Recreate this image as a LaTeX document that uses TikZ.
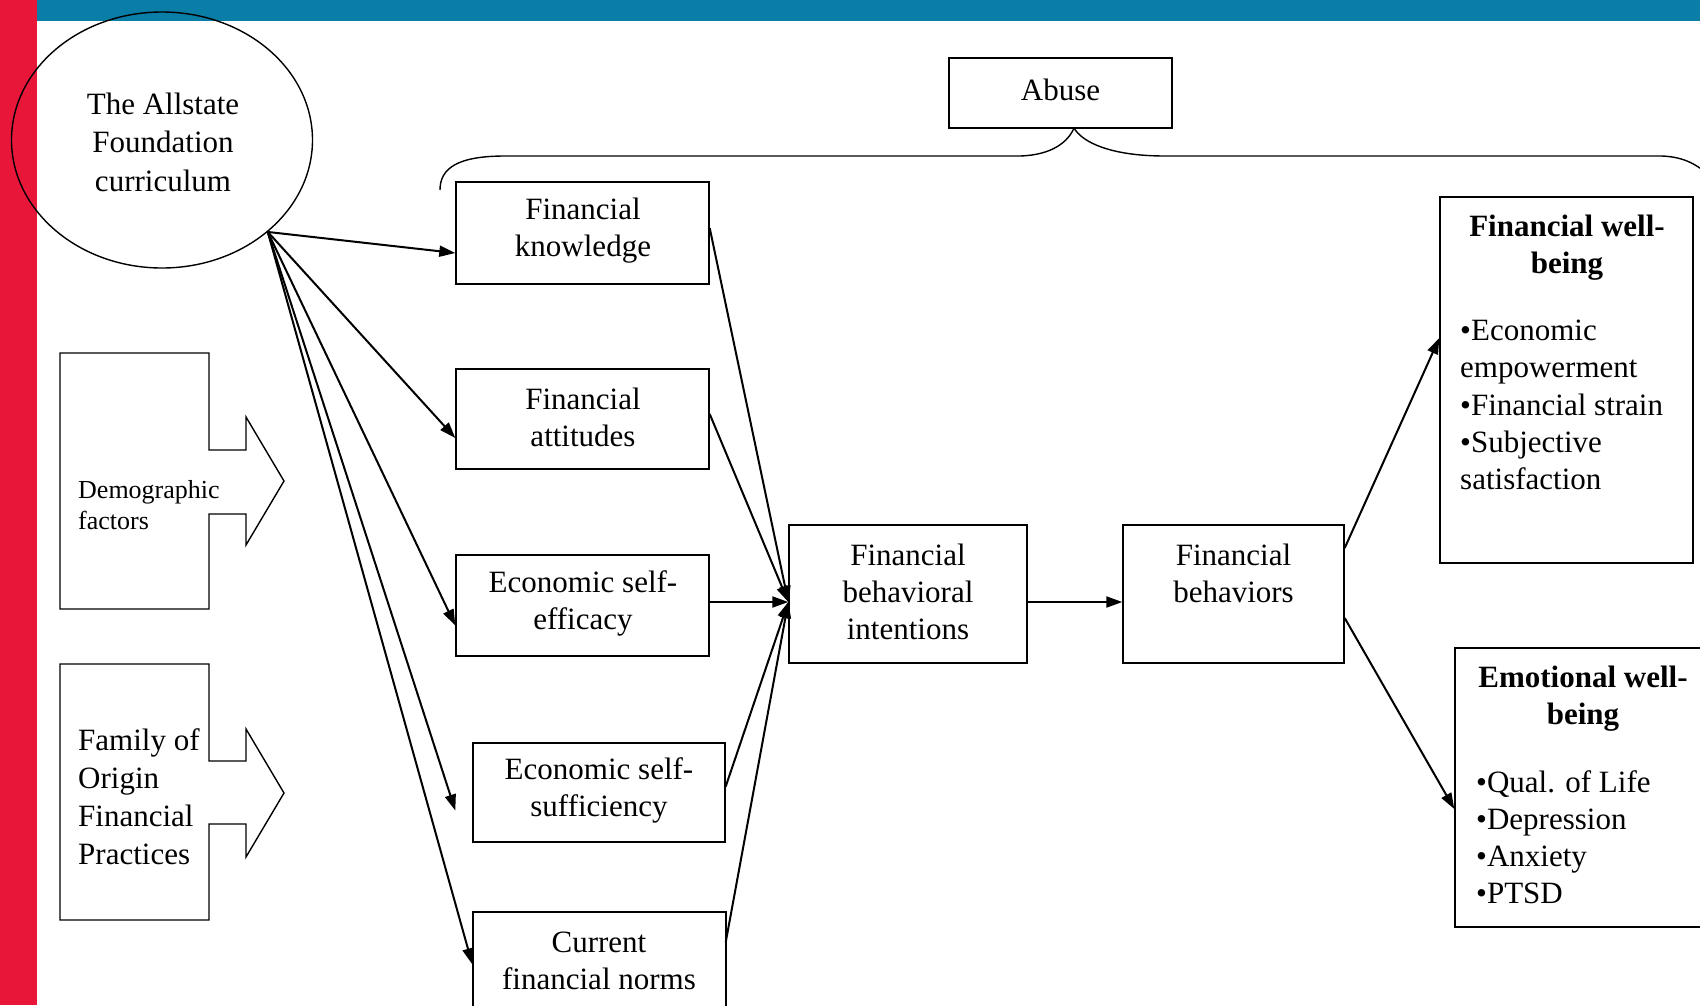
\documentclass[tikz,border=0pt]{standalone}
\usepackage{fontspec}
\setmainfont{Liberation Serif}
\usetikzlibrary{arrows.meta,calc,shapes.geometric}
\definecolor{topblue}{HTML}{0A7EA6}
\definecolor{sidered}{HTML}{E8173A}
\tikzset{
  box/.style={draw=black, line width=1.4pt, inner sep=0pt, fill=white},
  txt/.style={font=\fontsize{31}{37}\selectfont, align=center, inner sep=0pt},
  conn/.style={line width=2pt, -{Triangle[length=16pt,width=11pt]}},
  thin/.style={draw=black, line width=1.4pt},
}
\begin{document}
\begin{tikzpicture}[x=1pt,y=-1pt]
\useasboundingbox (0,0) rectangle (1700,1005);
\clip (0,0) rectangle (1700,1005);
\fill[white] (0,0) rectangle (1700,1005);
\fill[sidered] (0,0) rectangle (37,1005);
\fill[topblue] (37,0) rectangle (1700,21);

% ellipse
\node[thin, ellipse, minimum width=301pt, minimum height=256pt, inner sep=0pt] (allst) at (162,140) {};
\node[txt, font=\fontsize{31}{38.5}\selectfont] (allsttxt) at (163,142) {The Allstate\\Foundation\\curriculum};

% callout shapes
\draw[thin] (60,353) -- (209,353) -- (209,450) -- (246,450) -- (246,417) -- (284,481) -- (246,545) -- (246,514) -- (209,514) -- (209,609) -- (60,609) -- cycle;
\node[txt, align=left, anchor=west, font=\fontsize{26}{31}\selectfont] (demo) at (78,505) {Demographic\\factors};
\draw[thin] (60,664) -- (209,664) -- (209,761) -- (246,761) -- (246,729) -- (284,793) -- (246,857) -- (246,824) -- (209,824) -- (209,920) -- (60,920) -- cycle;
\node[txt, align=left, anchor=west, font=\fontsize{31}{38}\selectfont] (family) at (78,797) {Family of\\Origin\\Financial\\Practices};

% abuse and brace
\node[box, minimum width=223pt, minimum height=70pt] (abuse) at (1060.5,93) {};
\node[txt] (abusetxt) at (1060.5,90) {Abuse};
\coordinate (bracetip) at (1074,128);
\draw[thin] (440,190) .. controls (440,168) and (458,156) .. (505,156) -- (1020,156) .. controls (1052,155) and (1068,142) .. (bracetip);
\draw[thin] (bracetip) .. controls (1082,142) and (1110,156) .. (1165,156) -- (1662,156) .. controls (1685,157) and (1698,165) .. (1712,178);

% middle boxes
\node[box, minimum width=253pt, minimum height=102pt] (fk) at (582.5,233) {};
\node[txt] (fktxt) at (583,231) {Financial\\knowledge};
\node[box, minimum width=253pt, minimum height=100pt] (fa) at (582.5,419) {};
\node[txt] (fatxt) at (583,417) {Financial\\attitudes};
\node[box, minimum width=253pt, minimum height=101pt] (ese) at (582.5,605.5) {};
\node[txt] (esetxt) at (583,603) {Economic self-\\efficacy};
\node[box, minimum width=252pt, minimum height=99pt] (ess) at (599,792.5) {};
\node[txt] (esstxt) at (599,790) {Economic self-\\sufficiency};
\node[box, minimum width=253pt, minimum height=128pt] (cfn) at (599.5,976) {};
\node[txt] (cfntxt) at (599,961) {Current\\financial norms};

\node[box, minimum width=238pt, minimum height=138pt] (int) at (908,594) {};
\node[txt] (inttxt) at (908,592) {Financial\\behavioral\\intentions};
\node[box, minimum width=221pt, minimum height=138pt] (beh) at (1233.5,594) {};
\node[txt] (behtxt) at (1233.5,573) {Financial\\behaviors};

% outcome boxes
\node[box, minimum width=253pt, minimum height=366pt] (fwb) at (1566.5,380) {};
\node[txt, font=\bfseries\fontsize{31}{37}\selectfont] (fwbhead) at (1567,248) {Financial well-\\being};
\node[txt, align=left, anchor=west, font=\fontsize{31}{37.4}\selectfont] (fwblist) at (1460,405) {•Economic\\empowerment\\•Financial strain\\•Subjective\\satisfaction};
\node[box, minimum width=252pt, minimum height=279pt] (ewb) at (1581,787.5) {};
\node[txt, font=\bfseries\fontsize{31}{37}\selectfont] (ewbhead) at (1583,699) {Emotional well-\\being};
\node[txt, align=left, anchor=west, font=\fontsize{31}{37}\selectfont] (ewblist) at (1476,837) {•Qual. of Life\\•Depression\\•Anxiety\\•PTSD};

% connectors from curriculum
\coordinate (src) at (allst.-41);
\draw[conn] (src) -- ($(fk.west)+(0,20)$);
\draw[conn] (src) -- ($(fa.west)+(0,19)$);
\draw[conn] (src) -- ($(ese.west)+(0,20)$);
\draw[conn] (src) -- ($(ess.west)+(-17,18)$);
\draw[conn] (src) -- ($(cfn.north west)+(0,53)$);

% connectors to intentions
\coordinate (conv) at ($(int.west)+(0,8)$);
\draw[conn] ($(fk.east)+(0,-5)$) -- (conv);
\draw[conn] ($(fa.east)+(0,-5)$) -- (conv);
\draw[conn] ($(ese.east)+(0,-3.5)$) -- (conv);
\draw[conn] ($(ess.east)+(0,-6)$) -- (conv);
\draw[conn] ($(cfn.north east)+(-1,31)$) -- (conv);

\draw[conn] ($(int.east)+(0,8)$) -- ($(beh.west)+(0,8)$);
\draw[conn] ($(beh.east)+(0,-46)$) -- ($(fwb.west)+(0,-42)$);
\draw[conn] ($(beh.east)+(0,24)$) -- ($(ewb.west)+(0,21.5)$);
\end{tikzpicture}
\end{document}
